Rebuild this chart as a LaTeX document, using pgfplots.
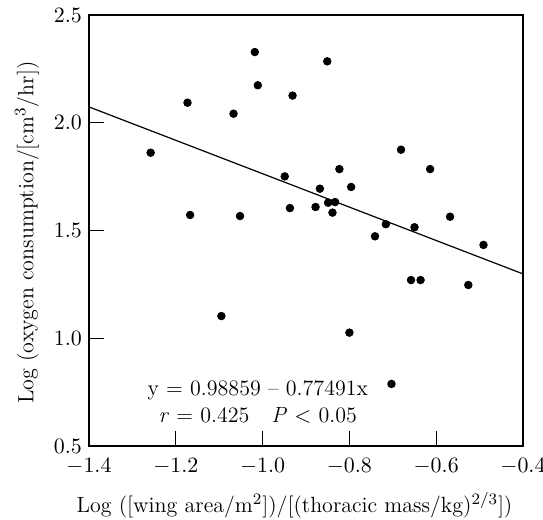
\documentclass[border=0pt]{standalone}
\usepackage{pgfplots}
\pgfplotsset{compat=1.18}

\begin{document}
\begin{tikzpicture}[font=\fontsize{11}{13}\selectfont]
\useasboundingbox (-44.5pt,-37pt) rectangle (227pt,223pt);
\begin{axis}[
    at={(0,0)}, anchor=south west,
    scale only axis,
    width=217pt, height=215.5pt,
    xmin=-1.4, xmax=-0.4,
    ymin=0.5, ymax=2.5,
    xtick={-1.4,-1.2,-1.0,-0.8,-0.6,-0.4},
    ytick={0.5,1.0,1.5,2.0,2.5},
    xtick pos=bottom, ytick pos=left,
    tick align=inside,
    major tick length=7.5pt,
    tick style={black, line width=0.5pt},
    axis line style={line width=0.6pt},
    xticklabel style={inner ysep=0.5pt, yshift=-5.5pt, /pgf/number format/.cd, fixed, fixed zerofill, precision=1},
    yticklabel style={inner ysep=0.5pt, /pgf/number format/.cd, fixed, fixed zerofill, precision=1},
    xlabel={Log ([wing area/m$^2$])/[(thoracic mass/kg)$^{2/3}$])},
    ylabel={Log (oxygen consumption/[cm$^3$/hr])},
    xlabel style={at={(axis description cs:0.4735,-0.137)}, anchor=center},
    ylabel style={at={(axis description cs:-0.143,0.495)}, anchor=center},
    clip=false
]

% measured points
\addplot[only marks, mark=*, mark size=1.9pt, black] coordinates {
    (-1.018,2.328) (-1.011,2.174) (-0.931,2.126) (-1.173,2.093) (-1.067,2.042)
    (-1.258,1.861) (-0.949,1.751) (-1.167,1.572) (-1.052,1.567) (-0.937,1.604)
    (-0.851,2.285) (-0.681,1.875) (-0.823,1.785) (-0.614,1.785) (-0.796,1.702)
    (-0.868,1.694) (-0.849,1.629) (-0.833,1.632) (-0.878,1.609) (-0.839,1.583)
    (-0.568,1.564) (-0.716,1.529) (-0.650,1.515) (-0.741,1.473) (-0.491,1.433)
    (-0.658,1.270) (-0.636,1.270) (-0.526,1.247) (-0.800,1.026) (-0.703,0.788)
    (-1.095,1.103)
};

% regression line y = 0.98859 - 0.77491x
\addplot[black, line width=0.6pt] coordinates {(-1.4,2.07346) (-0.4,1.29855)};

\node at (axis cs:-1.011,0.760) {y = 0.98859 -- 0.77491x};
\node at (axis cs:-1.011,0.644) {\textit{r} = 0.425\quad \textit{P} $<$ 0.05};

\end{axis}
\end{tikzpicture}
\end{document}
